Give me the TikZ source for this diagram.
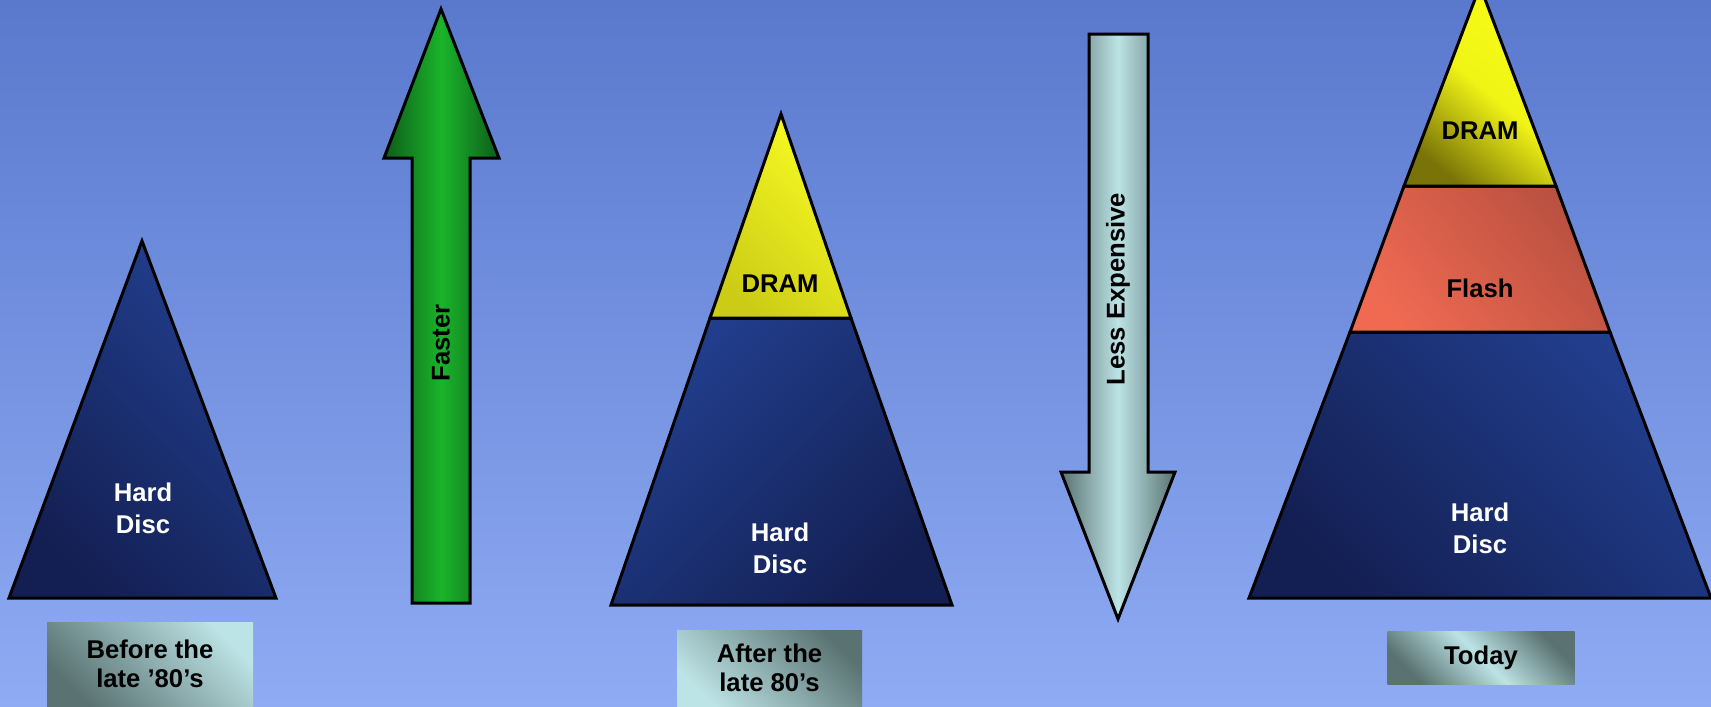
\documentclass[tikz,border=0pt]{standalone}
\usepackage{fontspec}
\setmainfont{Liberation Sans}
\definecolor{bgtop}{RGB}{90,121,205}
\definecolor{bgbottom}{RGB}{143,171,244}
\definecolor{discdark}{RGB}{19,31,82}
\definecolor{disclight}{RGB}{34,63,143}
\definecolor{dramlight}{RGB}{248,252,22}
\definecolor{dramdark}{RGB}{122,116,8}
\definecolor{dramsoft}{RGB}{204,204,22}
\definecolor{flashlight}{RGB}{240,106,82}
\definecolor{flashdark}{RGB}{184,80,64}
\definecolor{fastgreen}{RGB}{26,180,42}
\definecolor{fastdark}{RGB}{14,92,26}
\definecolor{cheaplight}{RGB}{188,227,229}
\definecolor{cheapdark}{RGB}{90,114,114}
\tikzset{
  layer/.style={draw=black, line width=0.85pt, line join=miter},
  disctext/.style={text=white, font=\fontsize{7.3}{9}\selectfont\bfseries, align=center},
  tiertext/.style={text=black, font=\fontsize{7.3}{9}\selectfont\bfseries, align=center},
  eralabel/.style={text=black, font=\fontsize{7.3}{8.4}\selectfont\bfseries, align=center,
    inner sep=0pt}
}
\begin{document}
\begin{tikzpicture}[x=0.1mm,y=-0.1mm]
                \useasboundingbox (0,0) rectangle (1711,706);
                \clip (0,0) rectangle (1711,706);

                % Drawing background
                \fill [top color=bgtop, bottom color=bgbottom] (0,0) rectangle (1711,706);%

                % Drawing pyramid before the late 80s
                \draw [layer, bottom color=discdark, top color=disclight, shading angle=-45] (142,241) -- (276,598) -- (9,598) -- cycle;%
                \node [disctext] (discA) at (143,508) {Hard\\Disc};%

                % Drawing arrow faster
                \draw [layer, left color=fastdark, right color=fastdark, middle color=fastgreen] (412,603) -- (412,158) -- (384,158) -- (441,9) -- (499,158) -- (470,158) -- (470,603) -- cycle;%
                \node [tiertext, rotate=90] (faster) at (441,343) {Faster};%

                % Drawing pyramid after the late 80s
                \draw [layer, top color=disclight, bottom color=discdark, shading angle=45] (710,318) -- (851,318) -- (952,605) -- (611,605) -- cycle;%
                \draw [layer, top color=dramlight!95!white, bottom color=dramsoft, shading angle=-45] (781,114) -- (851,318) -- (710,318) -- cycle;%
                \node [tiertext] (dramB) at (780,284) {DRAM};%
                \node [disctext] (discB) at (780,548) {Hard\\Disc};%

                % Drawing arrow less expensive
                \draw [layer, left color=cheapdark, right color=cheapdark, middle color=cheaplight] (1089,34) -- (1148,34) -- (1148,472) -- (1175,472) -- (1118,619) -- (1061,472) -- (1089,472) -- cycle;%
                \node [tiertext, rotate=90] (cheaper) at (1118,289) {Less Expensive};%

                % Drawing pyramid today
                \draw [layer, bottom color=discdark, top color=disclight, shading angle=-45] (1350,332) -- (1610,332) -- (1711,598) -- (1249,598) -- cycle;%
                \draw [layer, bottom color=flashlight, top color=flashdark, shading angle=-50] (1404,186) -- (1556,186) -- (1610,332) -- (1350,332) -- cycle;%
                \draw [layer, bottom color=dramdark, top color=dramlight, middle color=dramlight!97!black, shading angle=-40] (1480,-14) -- (1556,186) -- (1404,186) -- cycle;%
                \node [tiertext] (dramC) at (1480,131) {DRAM};%
                \node [tiertext] (flashC) at (1480,288) {Flash};%
                \node [disctext] (discC) at (1480,528) {Hard\\Disc};%

                % Marking era labels
                \node [eralabel, minimum width=20.6mm, minimum height=8.4mm, bottom color=cheapdark, top color=cheaplight, shading angle=-45] (eraA) at (150,664) {Before the\\late ’80’s};%
                \node [eralabel, minimum width=18.5mm, minimum height=7.6mm, top color=cheapdark, bottom color=cheaplight, shading angle=-45] (eraB) at (769.5,668) {After the\\late 80’s};%
                \node [eralabel, minimum width=18.7mm, minimum height=5.3mm, bottom color=cheapdark, top color=cheapdark, middle color=cheaplight, shading angle=-45] (eraC) at (1481,657.5) {Today};%
\end{tikzpicture}
\end{document}
